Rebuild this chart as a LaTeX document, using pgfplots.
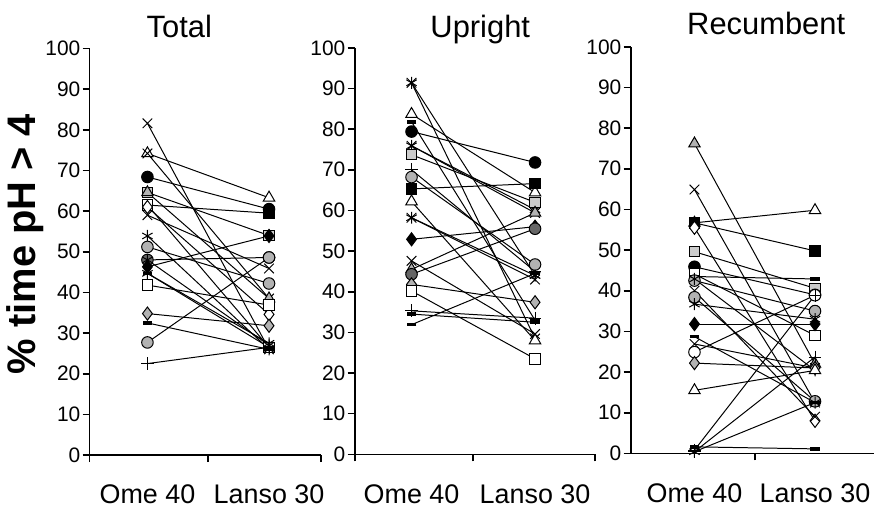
\documentclass[border=0pt]{standalone}
\usepackage{fontspec}
\setmainfont{Liberation Sans}
\usepackage{pgfplots}
\pgfplotsset{compat=1.18}

% marker styles
\tikzset{
  mX/.style={mark=x, mark size=3.4pt},
  mStar/.style={mark=asterisk, mark size=3pt},
  mPlus/.style={mark=+, mark size=3.2pt},
  mDash/.style={mark=-, mark size=2.4pt, mark options={line width=1.8pt}},
  mCirc/.style={mark=*, mark size=2.9pt},
  mCircG/.style={mark=*, mark size=2.9pt, mark options={fill=gray!60}},
  mCircD/.style={mark=*, mark size=2.9pt, mark options={fill=gray!80!black}},
  mCircO/.style={mark=*, mark size=2.9pt, mark options={fill=white}},
  mTri/.style={mark=triangle*, mark size=3.3pt, mark options={fill=white}},
  mTriG/.style={mark=triangle*, mark size=3.3pt, mark options={fill=gray!60}},
  mSq/.style={mark=square*, mark size=2.6pt, mark options={fill=white}},
  mSqG/.style={mark=square*, mark size=2.6pt, mark options={fill=gray!40}},
  mSqB/.style={mark=square*, mark size=2.6pt},
  mDia/.style={mark=diamond*, mark size=3.3pt, mark options={fill=white}},
  mDiaG/.style={mark=diamond*, mark size=3.3pt, mark options={fill=gray!60}},
  mDiaB/.style={mark=diamond*, mark size=3.3pt},
  ptitle/.style={anchor=base, inner sep=0pt, font=\fontsize{15.5}{18}\selectfont},
}

\pgfplotsset{
  panel/.style={
    scale only axis, height=204pt,
    ymin=0, ymax=100,
    axis x line*=bottom, axis y line*=left,
    axis line style={-, line width=0.8pt},
    tick align=outside, major tick length=3.5pt,
    tick style={line width=0.8pt, black},
    ytick={0,10,...,100},
    xticklabels={},
    extra x ticks={1,2}, extra x tick labels={Ome 40,Lanso 30},
    extra x tick style={major tick length=0pt,
      tick label style={anchor=base, yshift=-24.5pt, font=\fontsize{13.5}{16}\selectfont}},
    yticklabel style={font=\fontsize{10.5}{12}\selectfont, inner sep=0pt, xshift=-1pt},
    /pgf/number format/assume math mode=true,
    clip=false,
    every axis plot/.append style={black, line width=0.5pt},
  },
}

\begin{document}
\begin{tikzpicture}
\path (0,0) rectangle (438.5pt,255pt);

\node[rotate=90, inner sep=0pt, font=\bfseries\fontsize{20}{24}\selectfont] at (12.5pt,132.5pt) {\% time pH > 4};
\node[ptitle] at (90pt,236pt) {Total};
\node[ptitle] at (241pt,236pt) {Upright};
\node[ptitle] at (384.5pt,237.5pt) {Recumbent};

% ---------- Total ----------
\begin{axis}[panel, at={(45pt,26.65pt)}, anchor=south west, width=116pt,
  xmin=0.525, xmax=2.426, xtick={0.525,1.5,2.426}]
\addplot[mX]    coordinates {(1,81.6) (2,26.0)};
\addplot[mTri]  coordinates {(1,74.2) (2,63.3)};
\addplot[mX]    coordinates {(1,74.2) (2,38.5)};
\addplot[mCirc] coordinates {(1,68.4) (2,60.5)};
\addplot[mSqG]  coordinates {(1,64.6) (2,54.0)};
\addplot[mTriG] coordinates {(1,64.6) (2,38.5)};
\addplot[mSqB]  coordinates {(1,61.5) (2,59.5)};
\addplot[mSq]   coordinates {(1,61.5) (2,26.5)};
\addplot[mDia]  coordinates {(1,61.0) (2,34.6)};
\addplot[mX]    coordinates {(1,59.0) (2,45.9)};
\addplot[mStar] coordinates {(1,53.9) (2,26.0)};
\addplot[mCircG] coordinates {(1,51.2) (2,42.2)};
\addplot[mCircD] coordinates {(1,48.0) (2,48.6)};
\addplot[mStar] coordinates {(1,48.0) (2,27.0)};
\addplot[mDiaB] coordinates {(1,46.3) (2,53.9)};
\addplot[mDash] coordinates {(1,44.7) (2,26.5)};
\addplot[mStar] coordinates {(1,44.7) (2,27.5)};
\addplot[mSq]   coordinates {(1,41.8) (2,36.9)};
\addplot[mDiaG] coordinates {(1,34.8) (2,31.8)};
\addplot[mDash] coordinates {(1,32.5) (2,26.0)};
\addplot[mCircG] coordinates {(1,27.7) (2,48.6)};
\addplot[mPlus] coordinates {(1,22.5) (2,26.5)};
\end{axis}

% ---------- Upright ----------
\begin{axis}[panel, at={(178pt,27pt)}, anchor=south west, width=120.5pt,
  xmin=0.54, xmax=2.484, xtick={0.54,1.5,2.484}]
\addplot[mX]    coordinates {(1,91.4) (2,28.5)};
\addplot[mStar] coordinates {(1,91.4) (2,44.0)};
\addplot[mTri]  coordinates {(1,83.7) (2,64.4)};
\addplot[mDash] coordinates {(1,81.8) (2,33.0)};
\addplot[mCirc] coordinates {(1,79.4) (2,71.8)};
\addplot[mStar] coordinates {(1,75.9) (2,60.2)};
\addplot[mX]    coordinates {(1,75.9) (2,59.4)};
\addplot[mSqG]  coordinates {(1,73.7) (2,62.0)};
\addplot[mPlus] coordinates {(1,70.0) (2,45.0)};
\addplot[mCircG] coordinates {(1,68.2) (2,46.7)};
\addplot[mSqB]  coordinates {(1,65.3) (2,66.6)};
\addplot[mTri]  coordinates {(1,62.2) (2,28.0)};
\addplot[mStar] coordinates {(1,58.2) (2,44.0)};
\addplot[mX]    coordinates {(1,58.2) (2,43.0)};
\addplot[mDiaB] coordinates {(1,52.9) (2,56.0)};
\addplot[mX]    coordinates {(1,47.6) (2,29.6)};
\addplot[mTriG] coordinates {(1,45.5) (2,59.4)};
\addplot[mCircD] coordinates {(1,44.3) (2,55.5)};
\addplot[mDiaG] coordinates {(1,41.8) (2,37.4)};
\addplot[mSq]   coordinates {(1,40.2) (2,23.5)};
\addplot[mPlus] coordinates {(1,35.3) (2,33.5)};
\addplot[mDash] coordinates {(1,34.5) (2,32.5)};
\addplot[mDash] coordinates {(1,31.9) (2,44.5)};
\end{axis}

% ---------- Recumbent ----------
\begin{axis}[panel, at={(316.5pt,27.5pt)}, anchor=south west, width=122pt,
  xmin=0.471, xmax=2.488, xtick={1.5}]
\addplot[mTriG] coordinates {(1,76.2) (2,22.0)};
\addplot[mX]    coordinates {(1,64.9) (2,12.5)};
\addplot[mTri]  coordinates {(1,56.7) (2,59.8)};
\addplot[mSqB]  coordinates {(1,56.7) (2,49.8)};
\addplot[mDia]  coordinates {(1,55.5) (2,8.0)};
\addplot[mSqG]  coordinates {(1,49.6) (2,40.6)};
\addplot[mCirc] coordinates {(1,45.9) (2,39.0)};
\addplot[mSq]   coordinates {(1,44.1) (2,29.0)};
\addplot[mDash] coordinates {(1,43.5) (2,42.9)};
\addplot[mCircG] coordinates {(1,42.5) (2,35.0)};
\addplot[mStar] coordinates {(1,42.9) (2,20.4)};
\addplot[mX]    coordinates {(1,40.0) (2,9.0)};
\addplot[mCircG] coordinates {(1,38.4) (2,12.8)};
\addplot[mStar] coordinates {(1,36.7) (2,33.0)};
\addplot[mDiaB] coordinates {(1,31.8) (2,31.8)};
\addplot[mDash] coordinates {(1,28.7) (2,12.5)};
\addplot[mX]    coordinates {(1,26.9) (2,21.0)};
\addplot[mCircO] coordinates {(1,24.9) (2,38.9)};
\addplot[mDiaG] coordinates {(1,22.2) (2,21.0)};
\addplot[mTri]  coordinates {(1,15.5) (2,20.4)};
\addplot[mDash] coordinates {(1,1.6) (2,1.1)};
\addplot[mPlus] coordinates {(1,0.8) (2,38.9)};
\addplot[mPlus] coordinates {(1,0.4) (2,23.7)};
\addplot[mStar] coordinates {(1,0.4) (2,12.5)};
\end{axis}
\end{tikzpicture}
\end{document}
